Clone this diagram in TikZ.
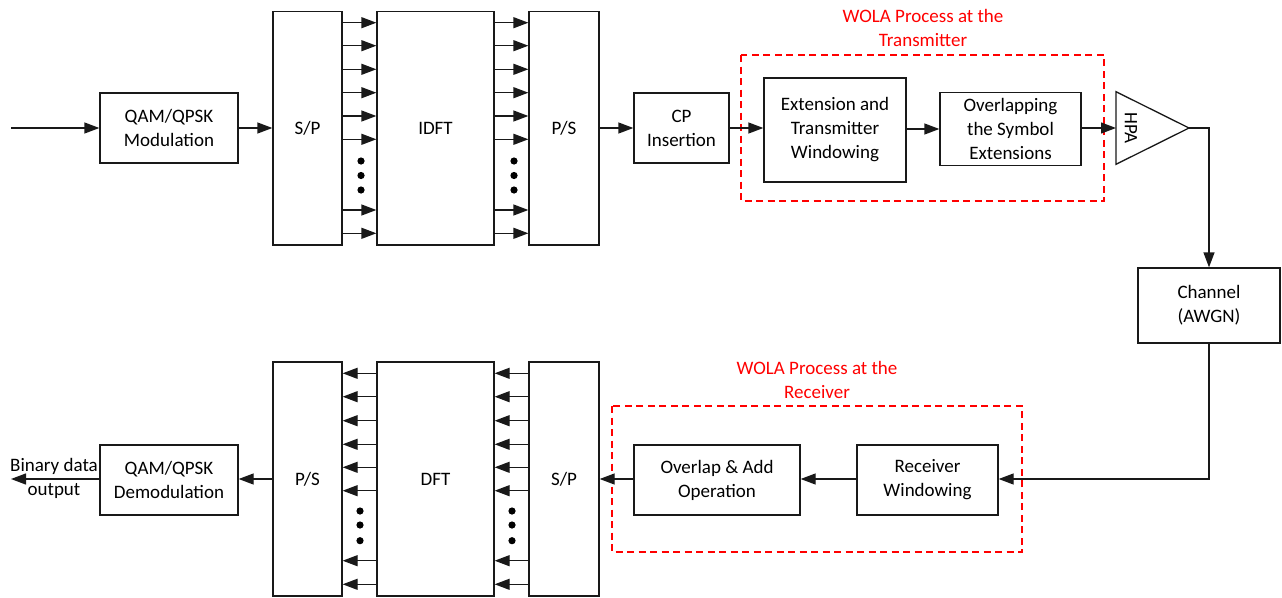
\documentclass[tikz,border=0pt]{standalone}
\usepackage{fontspec}
\setmainfont{Carlito}
\usetikzlibrary{arrows.meta,calc}
\begin{document}
\begin{tikzpicture}[x=1pt,y=-1pt,
  every node/.style={font=\fontsize{19}{24}\selectfont},
  blk/.style={draw=black!90, line width=1.3pt, fill=white, inner sep=0pt, align=center},
  arr/.style={line width=1.3pt, draw=black!90, -{Triangle[length=15pt,width=11pt]}},
  ln/.style={line width=1.3pt, draw=black!90},
  wola/.style={draw=red, line width=1.4pt, dash pattern=on 7pt off 4.5pt},
  wolatxt/.style={text=red, align=center},
  dotc/.style={fill=black}
]
\useasboundingbox (0,0) rectangle (1282,597);

% ---------- top row ----------
\node[blk, minimum width=138pt, minimum height=70pt] (qam) at (169,128) {QAM/QPSK\\Modulation};
\node[blk, minimum width=69pt, minimum height=233.5pt] (sp) at (307.5,128.25) {S/P};
\node[blk, minimum width=117pt, minimum height=233.5pt] (idft) at (435.5,128.25) {IDFT};
\node[blk, minimum width=70pt, minimum height=233.5pt] (ps) at (564,128.25) {P/S};
\node[blk, minimum width=95pt, minimum height=70pt] (cp) at (681.5,128) {CP\\Insertion};

\draw[wola] (741,55) rectangle (1104,201);
\node[wolatxt] (txlab) at (923,28) {WOLA Process at the\\Transmitter};

\node[blk, minimum width=142pt, minimum height=104pt] (ext) at (835,130) {Extension and\\Transmitter\\Windowing};
\node[blk, minimum width=141pt, minimum height=73pt] (ovl) at (1010.5,129) {Overlapping\\the Symbol\\Extensions};

\coordinate (hpaT) at (1116,91.7);
\coordinate (hpaB) at (1116,164.3);
\coordinate (hpaA) at (1189,128);
\coordinate (hpaL) at (1116,128);
\draw[ln, fill=white] (hpaT) -- (hpaA) -- (hpaB) -- cycle;
\node[rotate=-90] (hpa) at (1131,128) {HPA};

\node[blk, minimum width=142pt, minimum height=75pt] (chan) at (1209,305.5) {Channel\\(AWGN)};

% ---------- bottom row ----------
\node[blk, minimum width=138pt, minimum height=70pt] (demod) at (169,480) {QAM/QPSK\\Demodulation};
\node[blk, minimum width=69pt, minimum height=234pt] (ps2) at (307.5,479) {P/S};
\node[blk, minimum width=117pt, minimum height=234pt] (dft) at (435.5,479) {DFT};
\node[blk, minimum width=70pt, minimum height=234pt] (sp2) at (564,479) {S/P};

\draw[wola] (612,406) rectangle (1022,552);
\node[wolatxt] (rxlab) at (817,380) {WOLA Process at the\\Receiver};

\node[blk, minimum width=166pt, minimum height=70pt] (ola) at (717,480) {Overlap \& Add\\Operation};
\node[blk, minimum width=141pt, minimum height=70pt] (rw) at (927.5,480) {Receiver\\Windowing};

\node[align=center] (bin) at (54,478) {Binary data\\output};

% ---------- connectors top ----------
\coordinate (in) at (11,128);
\draw[arr] (in) -- (qam.west);
\draw[arr] (qam.east) -- (sp.west |- qam.east);
\foreach \y in {22.7,45.7,69.3,92.7,116,139.3,210,233.3}{
  \draw[arr] (sp.east |- 0,\y) -- (idft.west |- 0,\y);
  \draw[arr] (idft.east |- 0,\y) -- (ps.west |- 0,\y);
}
\foreach \y in {161,175.5,190}{
  \fill[dotc] (361,\y) circle (3.6pt);
  \fill[dotc] (514,\y) circle (3.6pt);
}
\draw[arr] (ps.east |- cp.west) -- (cp.west);
\draw[arr] (cp.east) -- (ext.west |- cp.east);
\draw[arr] (ext.east |- ovl.west) -- (ovl.west);
\draw[arr] (ovl.east |- hpaL) -- (hpaL);
\draw[arr] (hpaA) -| (chan.north);

% ---------- connectors bottom ----------
\draw[arr] (chan.south) |- (rw.east |- 0,479);
\draw[arr] (rw.west |- 0,479) -- (ola.east |- 0,479);
\draw[arr] (ola.west |- 0,479) -- (sp2.east |- 0,479);
\foreach \y in {373.3,396.7,420.7,444.3,467.3,490.7,560.7,584.3}{
  \draw[arr] (sp2.west |- 0,\y) -- (dft.east |- 0,\y);
  \draw[arr] (dft.west |- 0,\y) -- (ps2.east |- 0,\y);
}
\foreach \y in {511,525,540.7}{
  \fill[dotc] (360,\y) circle (3.6pt);
  \fill[dotc] (512,\y) circle (3.6pt);
}
\draw[arr] (ps2.west |- 0,479) -- (demod.east |- 0,479);
\coordinate (out) at (11,479);
\draw[arr] (demod.west |- 0,479) -- (out);
\end{tikzpicture}
\end{document}
